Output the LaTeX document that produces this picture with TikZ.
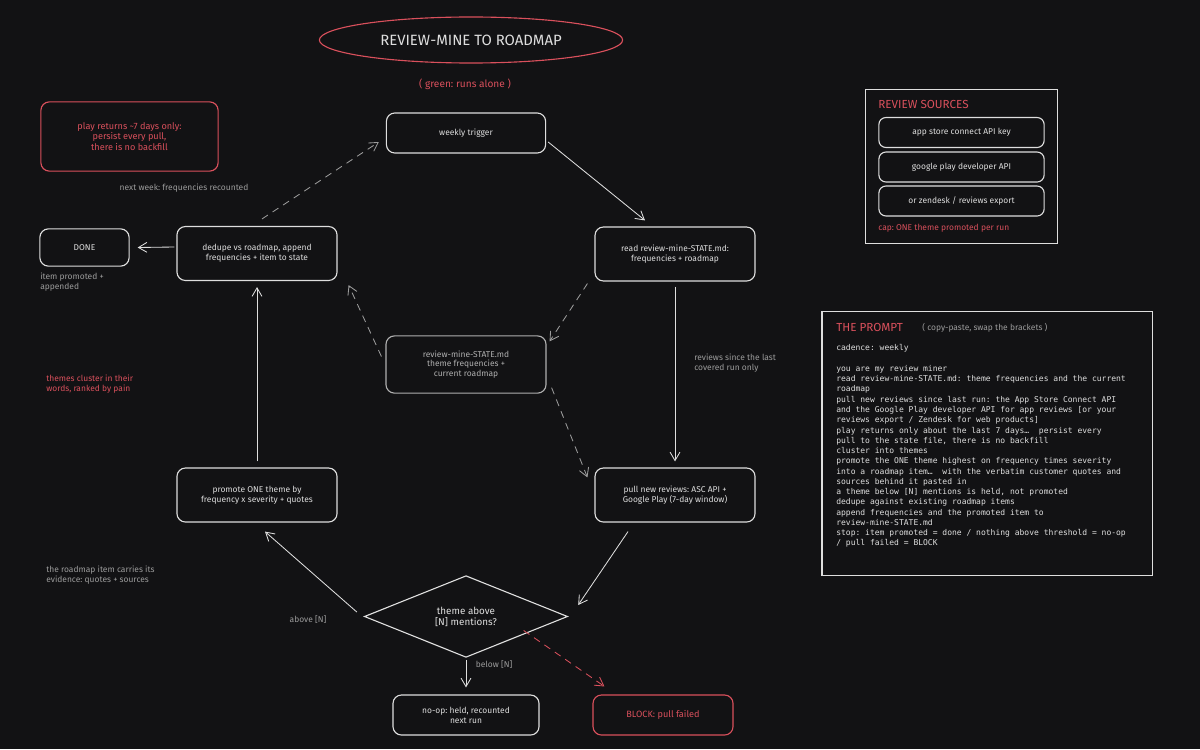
\documentclass[tikz,border=0pt]{standalone}
\usepackage{fontspec}
\setmainfont{Fira Sans}
\newfontfamily\promptfont{DejaVu Sans Mono}
\usepackage{tikz}
\usetikzlibrary{arrows.meta,shapes.geometric,positioning,calc}
\definecolor{bgc}{HTML}{121214}
\definecolor{inkc}{HTML}{DEDEDE}
\definecolor{redc}{HTML}{D9505C}
\definecolor{grayc}{HTML}{9C9C9C}
\definecolor{dimc}{HTML}{B0B0B0}
\frenchspacing

\begin{document}
\begin{tikzpicture}[x=0.025cm, y=-0.025cm,
  >={Straight Barb[length=6pt,width=7pt]},
  every node/.style={text=inkc, font=\fontsize{6}{7}\selectfont},
  box/.style={draw=inkc, line width=0.8pt, rounded corners=6pt, align=center,
    minimum width=4cm, minimum height=1.35cm, inner sep=2pt},
  dimbox/.style={box, draw=dimc, text=dimc, minimum height=1.43cm},
  redbox/.style={box, draw=redc, text=redc},
  srcbox/.style={box, rounded corners=5pt, minimum width=4.13cm, minimum height=0.75cm},
  frame/.style={draw=inkc, line width=0.8pt},
  note/.style={text=grayc, align=left, anchor=west, inner sep=0pt},
  rednote/.style={text=redc, align=left, anchor=west, inner sep=0pt},
  heading/.style={text=redc, font=\fontsize{8.3}{10}\selectfont, anchor=west, inner sep=0pt},
  flow/.style={->, draw=inkc, line width=0.6pt},
  back/.style={->, draw=grayc, line width=0.6pt, dash pattern=on 5pt off 4pt},
  fail/.style={->, draw=redc, line width=0.6pt, dash pattern=on 5pt off 4pt}]
  % review mining loop, pixel grid
  \fill[bgc] (0,0) rectangle (1200,749);

  \node[ellipse, draw=redc, line width=0.8pt, minimum width=7.58cm, minimum height=1.15cm,
    font=\fontsize{10.6}{12}\selectfont] (title) at (471,40) {REVIEW-MINE TO ROADMAP};
  \node[text=redc, font=\fontsize{7.2}{8}\selectfont] (mode) at (465,84) {( green: runs alone )};

  \node[redbox, minimum width=4.43cm, minimum height=1.73cm, font=\fontsize{6.5}{7.5}\selectfont]
    (warn) at (129.5,136.5) {play returns \textasciitilde7 days only:\\ persist every pull,\\ there is no backfill};

  \node[box, minimum width=3.98cm, minimum height=1cm] (trig) at (466,133) {weekly trigger};
  \node[box] (read) at (675,254) {read review-mine-STATE.md:\\ frequencies + roadmap};
  \node[box, minimum width=2.23cm, minimum height=0.93cm] (done) at (84.5,247.5) {DONE};
  \node[box] (dedupe) at (257,253.5) {dedupe vs roadmap, append\\ frequencies + item to state};
  \node[dimbox] (state) at (466,364.5) {review-mine-STATE.md\\ theme frequencies +\\ current roadmap};
  \node[box] (promote) at (257,495) {promote ONE theme by\\ frequency x severity + quotes};
  \node[box] (pull) at (675,495) {pull new reviews: ASC API +\\ Google Play (7-day window)};
  \node[diamond, draw=inkc, line width=0.8pt, minimum width=5.08cm, minimum height=1.73cm,
    inner sep=0pt, align=center, font=\fontsize{7}{8}\selectfont] (dia) at (466,616.5) {theme above\\ {[N]} mentions?};
  \node[box, minimum width=3.65cm, minimum height=1cm] (noop) at (466,715) {no-op: held, recounted\\ next run};
  \node[redbox, minimum width=3.5cm, minimum height=1cm, font=\fontsize{6.5}{7.5}\selectfont]
    (block) at (663,715) {BLOCK: pull failed};

  \node[text=grayc] (recount) at (184,188) {next week: frequencies recounted};
  \node[note] (donenote) at (40,282.5) {item promoted +\\ appended};
  \node[note] (sincenote) at (694,363.5) {reviews since the last\\ covered run only};
  \node[rednote] (clusternote) at (46,384.5) {themes cluster in their\\ words, ranked by pain};
  \node[note] (evidence) at (46,575.5) {the roadmap item carries its\\ evidence: quotes + sources};
  \node[text=grayc] (above) at (308,620) {above [N]};
  \node[text=grayc] (below) at (494,665) {below [N]};

  \draw[flow] ([shift={(2,9)}]trig.east) -- ([shift={(-30,-6)}]read.north);
  \draw[flow] ([shift={(0,5)}]read.south) -- ([shift={(0,-6)}]pull.north);
  \draw[back] ([shift={(-7,2)}]read.south west) -- ([shift={(3,6)}]state.north east);
  \draw[back] ([shift={(5,-6)}]state.south east) -- ([shift={(-7,10)}]pull.north west);
  \draw[back] ([shift={(-4,-8)}]state.west) -- ([shift={(11,4)}]dedupe.south east);
  \draw[back] ([shift={(5,-7)}]dedupe.north) -- ([shift={(-7,9)}]trig.west);
  \draw[flow] ([shift={(-2,-6.5)}]dedupe.west) -- ([shift={(8,0)}]done.east);
  \draw[flow] ([shift={(0,-6)}]promote.north) -- ([shift={(0,6)}]dedupe.south);
  \draw[flow] ([shift={(-47,9)}]pull.south) -- ([shift={(10,-11.5)}]dia.east);
  \draw[flow] ([shift={(-7,-4.5)}]dia.west) -- ([shift={(8,9)}]promote.south);
  \draw[flow] ([shift={(0,2)}]dia.south) -- ([shift={(0,-7)}]noop.north);
  \draw[fail] ([shift={(6.5,-6.75)}]dia.south east) -- ([shift={(12,-8)}]block.north west);

  % review sources panel
  \node[frame, minimum width=4.78cm, minimum height=3.83cm] (sources) at (961.5,166.5) {};
  \node[heading] (srchead) at (878,104) {REVIEW SOURCES};
  \node[srcbox] (asc) at (961.5,132.5) {app store connect API key};
  \node[srcbox] (gplay) at (961.5,167) {google play developer API};
  \node[srcbox] (zendesk) at (961.5,201) {or zendesk / reviews export};
  \node[rednote] (cap) at (878,228) {cap: ONE theme promoted per run};

  % prompt panel
  \node[frame, minimum width=8.25cm, minimum height=6.58cm] (prompt) at (987,443.5) {};
  \node[heading] (prompthead) at (836,327) {THE PROMPT};
  \node[note] (swap) at (922,328) {( copy-paste, swap the brackets )};
  \node[anchor=north west, inner sep=0pt, align=left, text=inkc,
    font=\promptfont\fontsize{5.7}{7.3}\selectfont] (prompttext) at (836,344.5) {%
cadence: weekly\\[7.3pt]
you are my review miner\\
read review-mine-STATE.md: theme frequencies and the current\\
roadmap\\
pull new reviews since last run: the App Store Connect API\\
and the Google Play developer API for app reviews [or your\\
reviews export / Zendesk for web products]\\
play returns only about the last 7 days…~~persist every\\
pull to the state file, there is no backfill\\
cluster into themes\\
promote the ONE theme highest on frequency times severity\\
into a roadmap item…~~with the verbatim customer quotes and\\
sources behind it pasted in\\
a theme below {[N]} mentions is held, not promoted\\
dedupe against existing roadmap items\\
append frequencies and the promoted item to\\
review-mine-STATE.md\\
stop: item promoted = done / nothing above threshold = no-op\\
/ pull failed = BLOCK};
\end{tikzpicture}
\end{document}
